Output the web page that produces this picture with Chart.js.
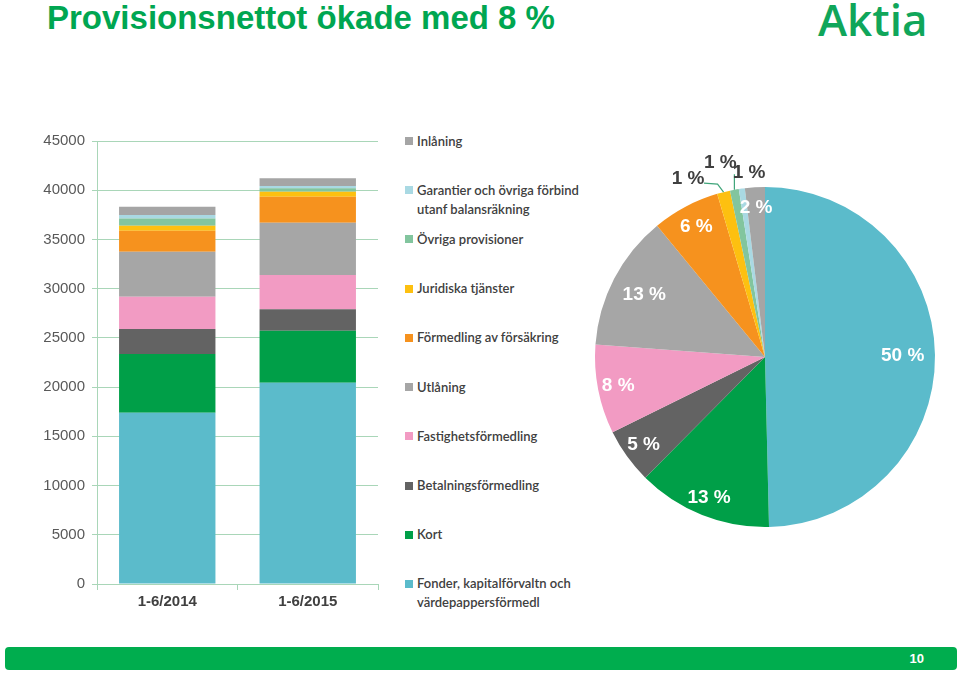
<!DOCTYPE html>
<html>
<head>
<meta charset="utf-8">
<script src="https://cdn.jsdelivr.net/npm/chart.js@4.4.1/dist/chart.umd.min.js"></script>
<style>
  body { margin: 0; width: 960px; height: 674px; position: relative; overflow: hidden; background: #fff;
         font-family: "Liberation Sans", Arial, sans-serif; }
  #title { position: absolute; left: 47px; top: -1px; white-space: nowrap; color: #00a651;
           font-family: "Liberation Sans", Arial, sans-serif; font-weight: bold; font-size: 33px; }
  #logo { position: absolute; left: 818px; top: -11px; color: #10a65a;
          font-family: "Open Sans", sans-serif; font-weight: 600; font-size: 44px; }
  #barBox { position: absolute; left: 0; top: 125px; width: 385px; height: 500px; }
  #pieBox { position: absolute; left: 565px; top: 137px; width: 400px; height: 440px; }
  #legend { position: absolute; left: 405px; top: 131.5px; font-family: Lato, sans-serif; font-size: 13px;
            font-weight: 600; color: #404040; }
  .item { height: 49.22px; line-height: 19px; position: relative; padding-left: 12px; white-space: pre-line; }
  .item .box { position: absolute; left: 0; top: 5.5px; width: 8px; height: 8px; }
  #footer { position: absolute; left: 5px; top: 647px; width: 952px; height: 23px; background: #00ad4e; border-radius: 4px; }
  #pageNo { position: absolute; right: 33px; top: 4px; color: #fff; font-weight: bold; font-size: 13px; }
</style>
</head>
<body>
<div id="title">Provisionsnettot ökade med 8 %</div>
<div id="logo">Aktia</div>
<div id="barBox"><canvas id="barChart"></canvas></div>
<div id="legend"></div>
<div id="pieBox"><canvas id="pieChart"></canvas></div>
<div id="footer"><span id="pageNo">10</span></div>
<script>
// serier nerifran och upp i stapeln
const categories = ['1-6/2014', '1-6/2015'];
const seriesNames = [
  'Fonder, kapitalförvaltn och\nvärdepappersförmedl',
  'Kort',
  'Betalningsförmedling',
  'Fastighetsförmedling',
  'Utlåning',
  'Förmedling av försäkring',
  'Juridiska tjänster',
  'Övriga provisioner',
  'Garantier och övriga förbind\nutanf balansräkning',
  'Inlåning'
];
const seriesColors = ['#5bbbcb', '#009f48', '#636363', '#f29bc3', '#a6a6a6',
                      '#f6921e', '#fdc010', '#82c59e', '#a9d9e3', '#a5a5a5'];
const values2014 = [17400, 5960, 2540, 3280, 4570, 2130, 510, 750, 340, 840];
const values2015 = [20450, 5280, 2170, 3490, 5310, 2640, 510, 345, 235, 780];
const yMin = 0, yMax = 45000, yStep = 5000;

// etiketter i pajen: avstand fran mitten och vinkelskift (grader)
const labelFactor = [0.81, 0.89, 0.88, 0.88, 0.8, 0.865, 1.14, 1.17, 1.09, 0.88];
const labelShift = [0, 0, 0, 0, 0, 0, -9.3, -2.6, 2.9, 0];
const labelLeader = [false, false, false, false, false, false, true, true, false, false];

const gridGreen = '#a9d6b8';

// legend, i omvand ordning
const legendEl = document.getElementById('legend');
seriesNames.slice().reverse().forEach((name, k) => {
  const i = seriesNames.length - 1 - k;
  const div = document.createElement('div');
  div.className = 'item';
  div.innerHTML = '<span class="box" style="background:' + seriesColors[i] + '"></span>';
  div.appendChild(document.createTextNode(name));
  legendEl.appendChild(div);
});

const barChart = new Chart(document.getElementById('barChart').getContext('2d'), {
  type: 'bar',
  data: {
    labels: categories,
    datasets: seriesNames.map((name, i) => ({
      label: name,
      data: [values2014[i], values2015[i]],
      backgroundColor: seriesColors[i],
      borderWidth: 0,
      barPercentage: 0.686,
      categoryPercentage: 1
    }))
  },
  options: {
    responsive: true,
    maintainAspectRatio: false,
    animation: false,
    layout: { padding: { top: 16, right: 7, bottom: 0, left: 0 } },
    plugins: { legend: { display: false }, tooltip: { enabled: false } },
    scales: {
      x: {
        stacked: true,
        grid: { display: true, drawOnChartArea: false, offset: true, color: gridGreen, tickLength: 6 },
        border: { color: gridGreen },
        ticks: { color: '#404040', padding: 3, font: { family: 'Liberation Sans', size: 15, weight: 'bold' } },
        afterFit: s => { s.height = 41; }
      },
      y: {
        stacked: true,
        min: yMin,
        max: yMax,
        grid: { color: gridGreen, tickLength: 5 },
        border: { color: gridGreen },
        ticks: {
          stepSize: yStep, color: '#595959', padding: 7,
          font: { family: 'Liberation Sans', size: 15 },
          callback: v => String(v)
        },
        afterFit: s => { s.width = 97; }
      }
    }
  }
});

const pieLabels = {
  id: 'pieLabels',
  afterDatasetsDraw(chart) {
    const ctx = chart.ctx;
    const meta = chart.getDatasetMeta(0);
    const data = chart.data.datasets[0].data;
    const total = data.reduce((a, b) => a + b, 0);
    ctx.save();
    ctx.font = 'bold 19px "Liberation Sans", Arial, sans-serif';
    ctx.textAlign = 'center';
    ctx.textBaseline = 'middle';
    meta.data.forEach((arc, i) => {
      const p = arc.getProps(['x', 'y', 'startAngle', 'endAngle', 'outerRadius'], true);
      const mid = (p.startAngle + p.endAngle) / 2;
      const a = mid + labelShift[i] * Math.PI / 180;
      const r = p.outerRadius * labelFactor[i];
      const lx = p.x + Math.cos(a) * r;
      const ly = p.y + Math.sin(a) * r;
      if (labelLeader[i]) {
        const ex = p.x + Math.cos(mid) * p.outerRadius;
        const ey = p.y + Math.sin(mid) * p.outerRadius;
        ctx.strokeStyle = '#3fa57a';
        ctx.lineWidth = 1.2;
        ctx.beginPath();
        if (Math.abs(ex - lx) < 16) {
          ctx.moveTo(ex, ly + 11);
        } else {
          ctx.moveTo(lx + 16, ly + 4);
          ctx.lineTo(ex - 6, ly + 5);
        }
        ctx.lineTo(ex, ey);
        ctx.stroke();
      }
      ctx.fillStyle = labelFactor[i] > 1 ? '#404040' : '#ffffff';
      ctx.fillText(Math.round(data[i] / total * 100) + ' %', lx, ly);
    });
    ctx.restore();
  }
};

const pieChart = new Chart(document.getElementById('pieChart').getContext('2d'), {
  type: 'pie',
  data: {
    labels: seriesNames,
    datasets: [{ data: values2015, backgroundColor: seriesColors, borderWidth: 0 }]
  },
  options: {
    responsive: true,
    maintainAspectRatio: false,
    animation: false,
    layout: { padding: { top: 50, right: 30, bottom: 50, left: 30 } },
    plugins: { legend: { display: false }, tooltip: { enabled: false } }
  },
  plugins: [pieLabels]
});
</script>
</body>
</html>
